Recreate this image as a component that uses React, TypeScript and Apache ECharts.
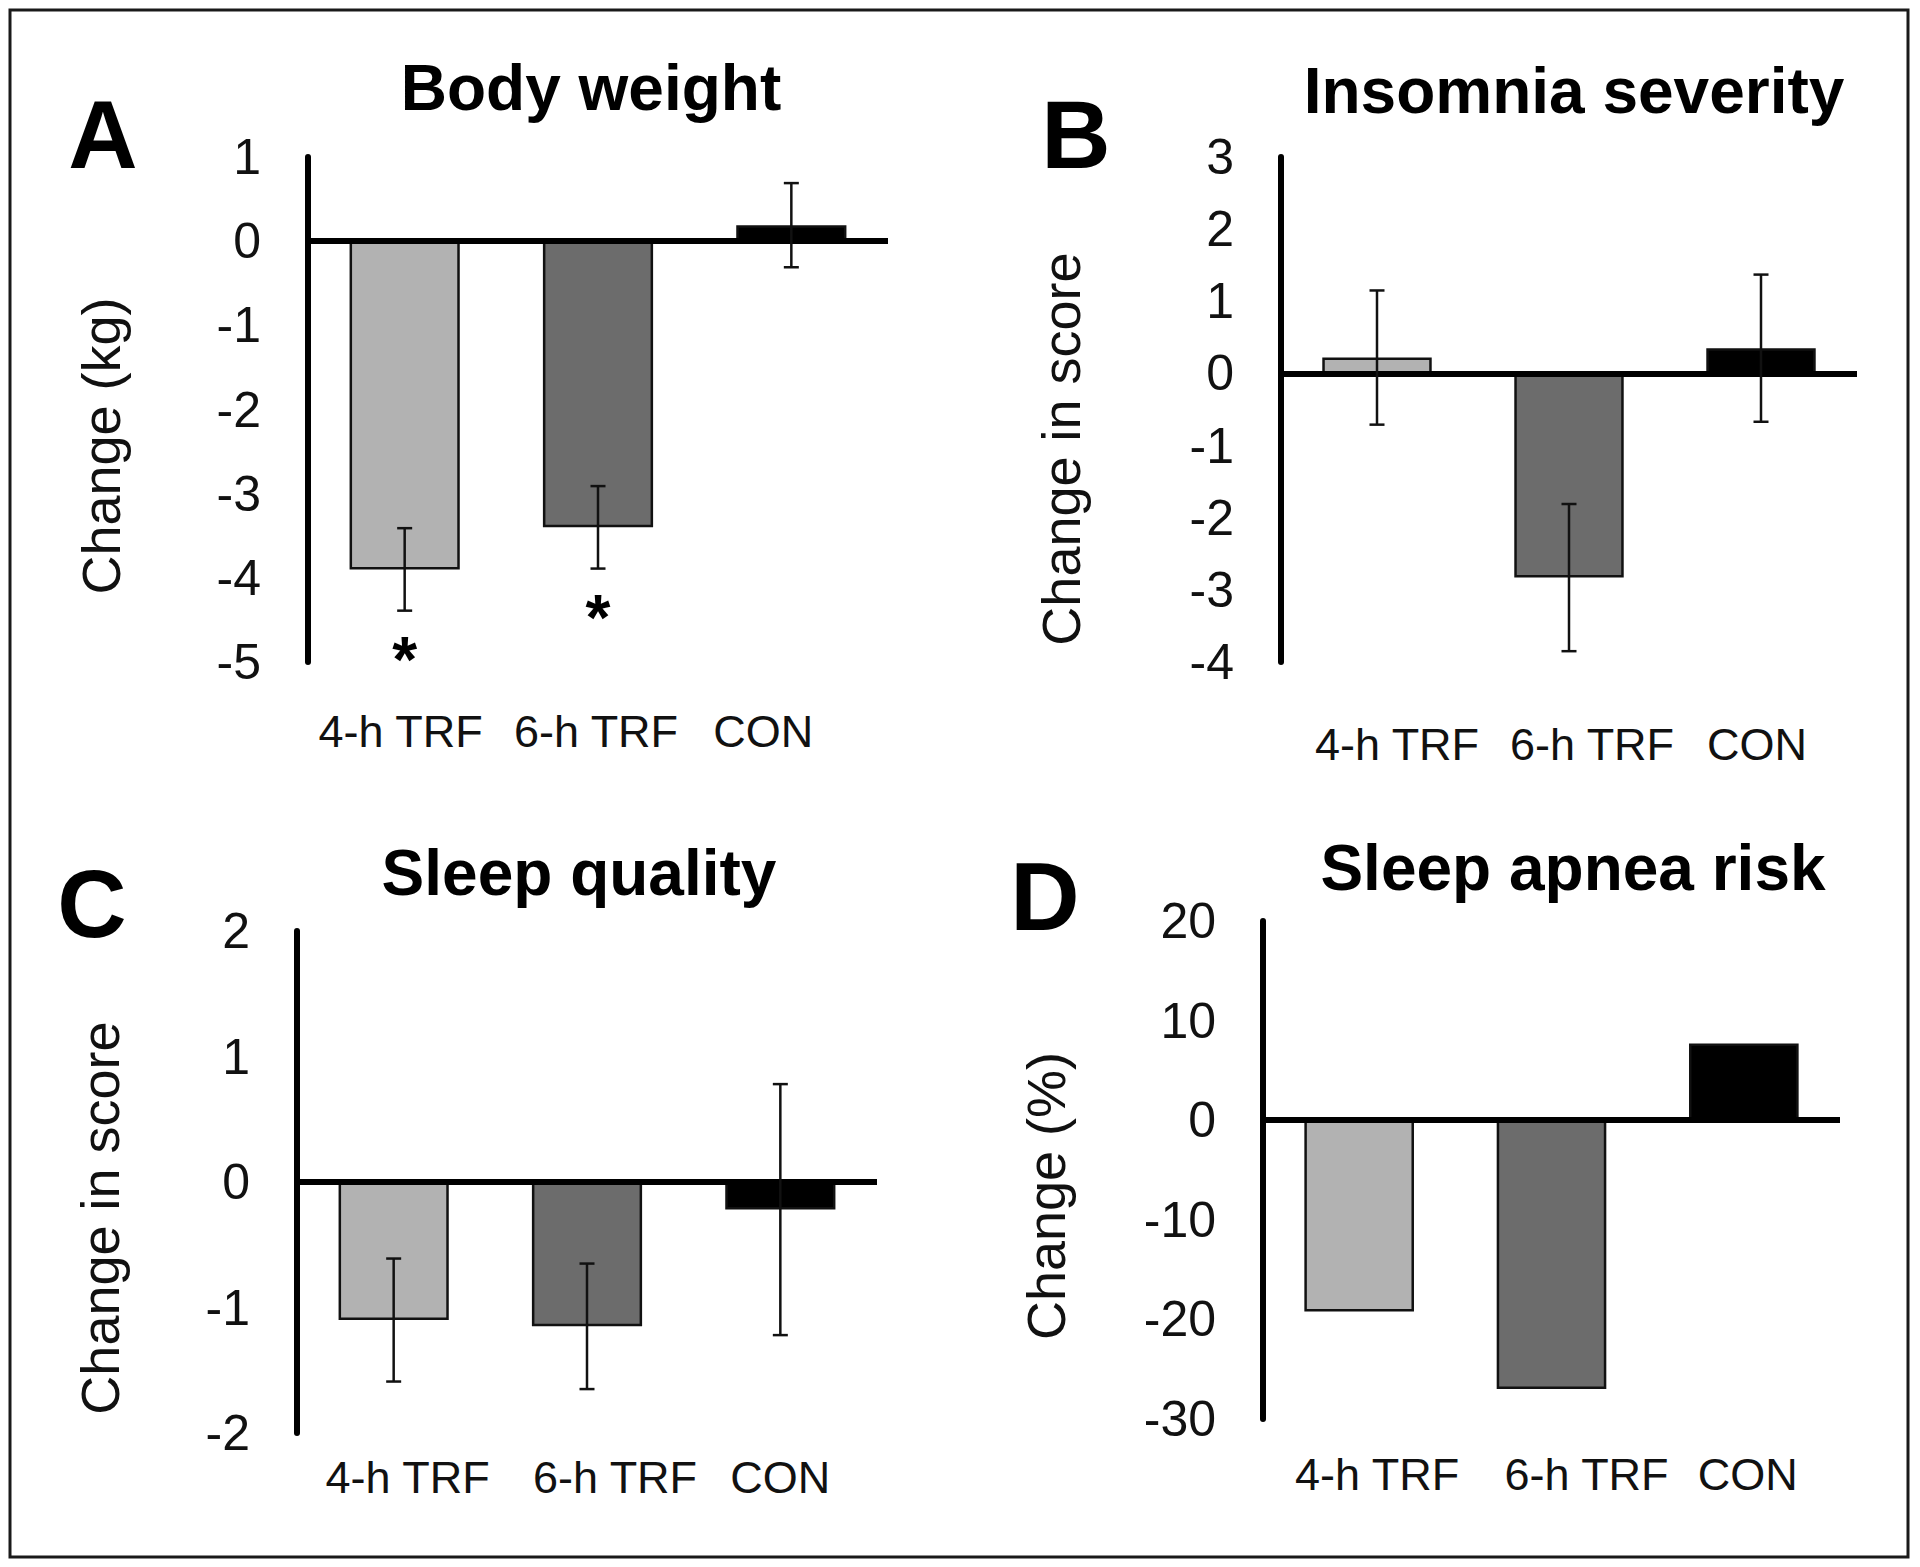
import React, { useEffect, useRef } from 'react';
import * as echarts from 'echarts';

// ---------- data ----------
const categories = ['4-h TRF', '6-h TRF', 'CON'];
const barColors = ['#b2b2b2', '#6c6c6c', '#000000'];

const weightMean = [-3.9, -3.4, 0.19];
const weightErr = [0.49, 0.49, 0.5];
const weightSig = ['*', '*', ''];

const insomniaMean = [0.22, -2.83, 0.35];
const insomniaErr = [0.93, 1.02, 1.02];

const qualityMean = [-1.1, -1.15, -0.22];
const qualityErr = [0.49, 0.5, 1.0];

const apneaMean = [-19.2, -27.0, 7.7];

const weightAxis = { min: -5, max: 1, interval: 1 };
const insomniaAxis = { min: -4, max: 3, interval: 1 };
const qualityAxis = { min: -2, max: 2, interval: 1 };
const apneaAxis = { min: -30, max: 20, interval: 10 };

const FONT = '"Liberation Sans", Arial, Helvetica, sans-serif';

type Panel = {
  letter: string;
  title: string;
  yName: string;
  mean: number[];
  err: number[] | null;
  sig: string[] | null;
  axis: { min: number; max: number; interval: number };
  grid: { left: number; top: number; width: number; height: number };
  labelMargin: number;
  labelShift: number[];
  letterPos: [number, number];
  titlePos: [number, number];
  yNamePos: [number, number];
};

const panels: Panel[] = [
  {
    letter: 'A', title: 'Body weight', yName: 'Change (kg)',
    mean: weightMean, err: weightErr, sig: weightSig, axis: weightAxis,
    grid: { left: 308, top: 157, width: 580, height: 505 },
    labelMargin: 47, labelShift: [-4, -2, -28],
    letterPos: [103, 134], titlePos: [591, 88], yNamePos: [101, 446],
  },
  {
    letter: 'B', title: 'Insomnia severity', yName: 'Change in score',
    mean: insomniaMean, err: insomniaErr, sig: null, axis: insomniaAxis,
    grid: { left: 1281, top: 157, width: 576, height: 505 },
    labelMargin: 60, labelShift: [20, 23, -4],
    letterPos: [1076, 134], titlePos: [1574, 91], yNamePos: [1061, 449],
  },
  {
    letter: 'C', title: 'Sleep quality', yName: 'Change in score',
    mean: qualityMean, err: qualityErr, sig: null, axis: qualityAxis,
    grid: { left: 297, top: 931, width: 580, height: 502 },
    labelMargin: 22, labelShift: [14, 28, 0],
    letterPos: [92, 903], titlePos: [579, 873], yNamePos: [100, 1218],
  },
  {
    letter: 'D', title: 'Sleep apnea risk', yName: 'Change (%)',
    mean: apneaMean, err: null, sig: null, axis: apneaAxis,
    grid: { left: 1263, top: 921, width: 577, height: 498 },
    labelMargin: 33, labelShift: [18, 35, 4],
    letterPos: [1045, 896], titlePos: [1573, 868], yNamePos: [1046, 1196],
  },
];

function buildOption() {
  const grid: any[] = [];
  const xAxis: any[] = [];
  const yAxis: any[] = [];
  const series: any[] = [];
  const graphic: any[] = [];

  graphic.push({
    type: 'rect',
    shape: { x: 10, y: 10, width: 1898, height: 1547 },
    style: { fill: 'none', stroke: '#1a1a1a', lineWidth: 3 },
    silent: true,
  });

  panels.forEach((p, k) => {
    grid.push({ ...p.grid, containLabel: false });

    const rich: any = {};
    p.labelShift.forEach((dx, i) => {
      rich['c' + i] = {
        fontSize: 45,
        fontFamily: FONT,
        color: '#111',
        padding: dx >= 0 ? [0, 0, 0, 2 * dx] : [0, -2 * dx, 0, 0],
      };
    });

    xAxis.push({
      type: 'category',
      gridIndex: k,
      data: categories,
      position: 'bottom',
      axisLine: { show: false, onZero: false },
      axisTick: { show: false },
      splitLine: { show: false },
      axisLabel: {
        show: true,
        interval: 0,
        hideOverlap: false,
        margin: p.labelMargin,
        fontSize: 45,
        fontFamily: FONT,
        color: '#111',
        formatter: (v: string, i: number) => `{c${i}|${v}}`,
        rich,
      },
    });

    yAxis.push({
      type: 'value',
      gridIndex: k,
      min: p.axis.min,
      max: p.axis.max,
      interval: p.axis.interval,
      axisLine: { show: true, lineStyle: { color: '#000', width: 6 } },
      axisTick: { show: false },
      splitLine: { show: false },
      axisLabel: {
        show: true,
        margin: 47,
        fontSize: 50,
        fontFamily: FONT,
        color: '#111',
      },
    });

    series.push({
      type: 'bar',
      xAxisIndex: k,
      yAxisIndex: k,
      barWidth: '57%',
      data: p.mean.map((v, i) => ({
        value: v,
        itemStyle: { color: barColors[i], borderColor: '#111', borderWidth: 2.5 },
      })),
      markLine: {
        silent: true,
        symbol: ['none', 'none'],
        label: { show: false },
        lineStyle: { color: '#000', width: 6, type: 'solid' },
        data: [{ yAxis: 0 }],
      },
      z: 2,
    });

    if (p.err) {
      const errArr = p.err;
      const sigArr = p.sig;
      series.push({
        type: 'custom',
        xAxisIndex: k,
        yAxisIndex: k,
        z: 6,
        data: p.mean.map((v, i) => [i, v, errArr[i]]),
        renderItem: (params: any, api: any) => {
          const idx = api.value(0);
          const m = api.value(1);
          const e = api.value(2);
          const top = api.coord([idx, m + e]);
          const bot = api.coord([idx, m - e]);
          const x = top[0];
          const cap = 7.5;
          const style = { stroke: '#111', lineWidth: 2.5 };
          const children: any[] = [
            { type: 'line', shape: { x1: x, y1: top[1], x2: x, y2: bot[1] }, style },
            { type: 'line', shape: { x1: x - cap, y1: top[1], x2: x + cap, y2: top[1] }, style },
            { type: 'line', shape: { x1: x - cap, y1: bot[1], x2: x + cap, y2: bot[1] }, style },
          ];
          const s = sigArr ? sigArr[params.dataIndex] : '';
          if (s) {
            children.push({
              type: 'text',
              x: x,
              y: bot[1] + 49,
              style: {
                text: s,
                fontSize: 64,
                fontWeight: 'bold',
                fontFamily: FONT,
                fill: '#000',
                align: 'center',
                verticalAlign: 'middle',
              },
            });
          }
          return { type: 'group', children };
        },
      });
    }

    graphic.push({
      type: 'text',
      x: p.letterPos[0],
      y: p.letterPos[1],
      style: {
        text: p.letter,
        fontSize: 96,
        fontWeight: 'bold',
        fontFamily: FONT,
        fill: '#000',
        align: 'center',
        verticalAlign: 'middle',
      },
    });
    graphic.push({
      type: 'text',
      x: p.titlePos[0],
      y: p.titlePos[1],
      style: {
        text: p.title,
        fontSize: 64,
        fontWeight: 'bold',
        fontFamily: FONT,
        fill: '#000',
        align: 'center',
        verticalAlign: 'middle',
      },
    });
    graphic.push({
      type: 'text',
      x: p.yNamePos[0],
      y: p.yNamePos[1],
      rotation: Math.PI / 2,
      style: {
        text: p.yName,
        fontSize: 54,
        fontFamily: FONT,
        fill: '#111',
        align: 'center',
        verticalAlign: 'middle',
      },
    });
  });

  return {
    animation: false,
    backgroundColor: '#ffffff',
    grid,
    xAxis,
    yAxis,
    series,
    graphic,
  };
}

export default function App() {
  const ref = useRef<HTMLDivElement>(null);
  useEffect(() => {
    if (!ref.current) return;
    const chart = echarts.init(ref.current, null, { renderer: 'svg' });
    chart.setOption(buildOption() as any);
    return () => chart.dispose();
  }, []);
  return (
    <div
      ref={ref}
      style={{ position: 'absolute', left: 0, top: 0, width: 1920, height: 1567, background: '#fff' }}
    />
  );
}
